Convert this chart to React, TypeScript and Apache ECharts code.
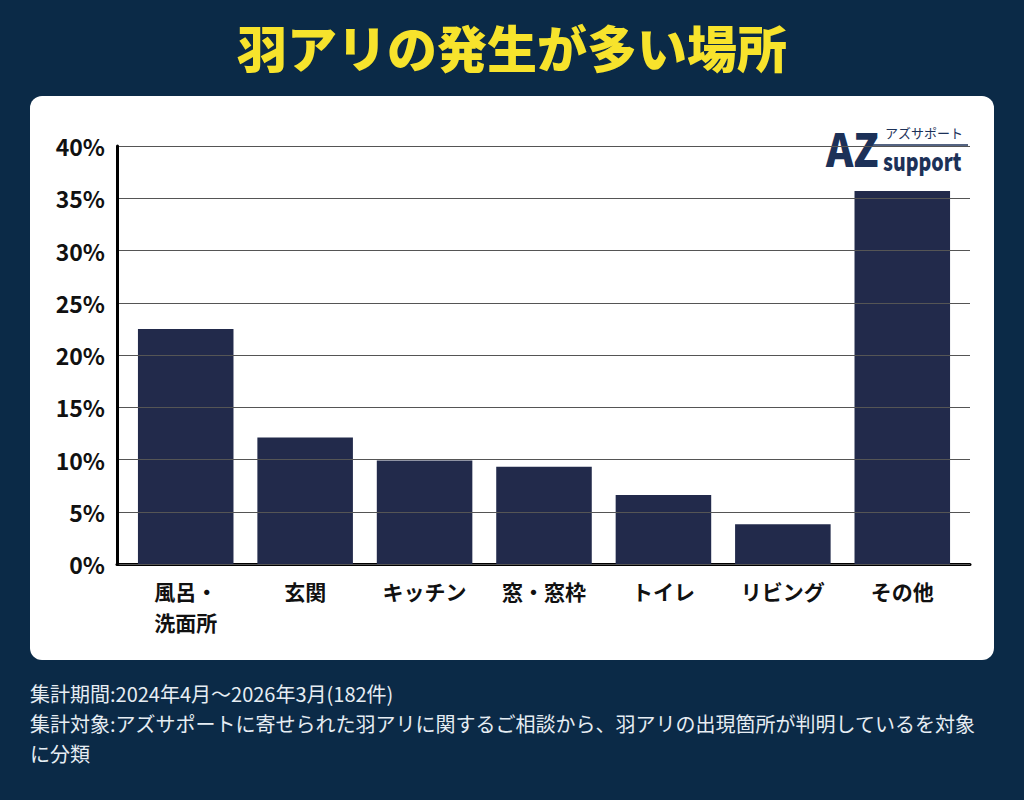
import React, { useEffect, useRef } from "react";
import * as echarts from "echarts";

const categories = ["風呂・\n洗面所", "玄関", "キッチン", "窓・窓枠", "トイレ", "リビング", "その他"];
const shares = [22.5, 12.1, 9.9, 9.3, 6.6, 3.8, 35.7];
const yTicks = { min: 0, max: 40, interval: 5 };
const titleText = "羽アリの発生が多い場所";
const footnotes = [
  "集計期間:2024年4月～2026年3月(182件)",
  "集計対象:アズサポートに寄せられた羽アリに関するご相談から、羽アリの出現箇所が判明しているを対象",
  "に分類",
];

const FONT = '"Noto Sans CJK JP", "Noto Sans", sans-serif';
const BG = "#0b2a47";
const BAR = "#222a4b";
const BRAND = "#1c3158";

export default function App() {
  const ref = useRef<HTMLDivElement>(null);

  useEffect(() => {
    if (!ref.current) return;
    const chart = echarts.init(ref.current, null, { renderer: "svg" });
    const top = 146;
    const height = 418;
    chart.setOption({
      animation: false,
      backgroundColor: BG,
      textStyle: { fontFamily: FONT },
      graphic: [
        { type: "rect", shape: { x: 30, y: 96, width: 964, height: 564, r: 12 }, style: { fill: "#ffffff" }, z: -10 },
        {
          type: "text", x: 512, y: 46,
          style: { text: titleText, fill: "#f7e32c", font: `900 50px ${FONT}`, align: "center", verticalAlign: "middle" },
        },
        ...footnotes.map((t, i) => ({
          type: "text", x: 30, y: 693 + i * 30,
          style: { text: t, fill: "#e6edf3", font: `400 20px ${FONT}`, verticalAlign: "middle" },
        })),
        // brand mark
        {
          type: "text", x: 826, y: 147, scaleX: 0.9,
          style: { text: "AZ", fill: BRAND, font: `900 46px ${FONT}`, verticalAlign: "middle" },
        },
        {
          type: "text", x: 885, y: 132,
          style: { text: "アズサポート", fill: BRAND, font: `400 13px ${FONT}`, verticalAlign: "middle" },
        },
        { type: "line", shape: { x1: 872, y1: 145, x2: 968, y2: 145 }, style: { stroke: BRAND, lineWidth: 1.5 } },
        {
          type: "text", x: 883, y: 160, scaleX: 0.78,
          style: { text: "support", fill: BRAND, font: `900 25px ${FONT}`, verticalAlign: "middle" },
        },
      ],
      grid: [
        { left: 117, right: 54, top, height },
        { left: 126, right: 62, top, height },
      ],
      xAxis: [
        {
          type: "category", gridIndex: 0, data: categories.map(() => ""),
          axisLine: { lineStyle: { color: "#000000", width: 3 } },
          axisTick: { show: false }, axisLabel: { show: false },
        },
        {
          type: "category", gridIndex: 1, data: categories,
          axisLine: { show: false }, axisTick: { show: false },
          axisLabel: {
            margin: 11, color: "#111111", fontFamily: FONT, fontWeight: 700, fontSize: 21, lineHeight: 31,
            interval: 0,
          },
        },
      ],
      yAxis: [
        {
          type: "value", gridIndex: 0, ...yTicks,
          axisLine: { show: true, lineStyle: { color: "#000000", width: 3 } },
          axisTick: { show: false },
          splitLine: { lineStyle: { color: "#555555", width: 1 } },
          axisLabel: {
            margin: 12, color: "#111111", fontFamily: FONT, fontWeight: 700, fontSize: 23,
            formatter: (v: number) => `${v}%`,
          },
          z: 3,
        },
        {
          type: "value", gridIndex: 1, ...yTicks,
          axisLine: { show: false }, axisTick: { show: false },
          splitLine: { show: false }, axisLabel: { show: false },
        },
      ],
      series: [
        {
          type: "bar", xAxisIndex: 1, yAxisIndex: 1, data: shares,
          barWidth: "80%", itemStyle: { color: BAR }, z: 2,
        },
      ],
    });
    return () => chart.dispose();
  }, []);

  return <div ref={ref} style={{ position: "fixed", left: 0, top: 0, width: 1024, height: 800 }} />;
}
